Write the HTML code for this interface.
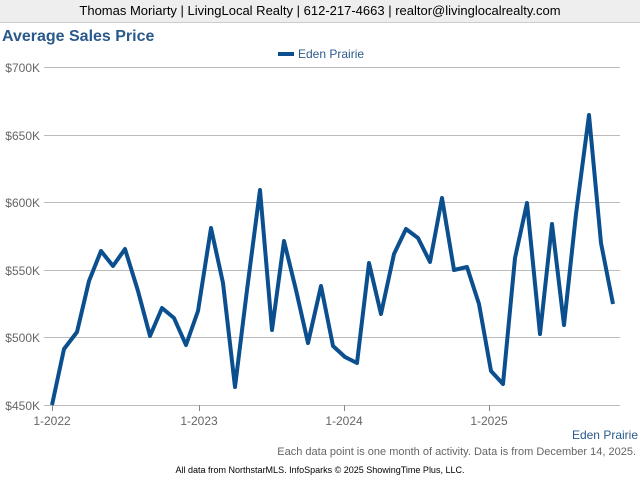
<!DOCTYPE html>
<html><head><meta charset="utf-8"><style>
body{margin:0;width:640px;height:480px;background:#fff;font-family:"Liberation Sans",sans-serif;overflow:hidden;position:relative}
.hdr{position:absolute;left:0;top:0;width:640px;height:22px;background:#eee;border-bottom:1px solid #ccc;font-size:13px;text-align:center;line-height:22px;color:#000}
</style></head><body>
<div class="hdr">Thomas Moriarty | LivingLocal Realty | 612-217-4663 | realtor@livinglocalrealty.com</div>
<svg width="640" height="480" style="position:absolute;left:0;top:0" font-family="Liberation Sans, sans-serif">
<text x="2" y="41" font-size="16" font-weight="bold" fill="#2a5a8c">Average Sales Price</text>
<line x1="278" y1="54" x2="294" y2="54" stroke="#0b4f8f" stroke-width="4"/>
<text x="298" y="58" font-size="12" fill="#2a5a8c">Eden Prairie</text>
<g stroke="#bbb" stroke-width="1">
<line x1="44" y1="67.5" x2="620" y2="67.5"/><line x1="44" y1="135.5" x2="620" y2="135.5"/>
<line x1="44" y1="202.5" x2="620" y2="202.5"/><line x1="44" y1="270.5" x2="620" y2="270.5"/>
<line x1="44" y1="337.5" x2="620" y2="337.5"/><line x1="44" y1="405.5" x2="620" y2="405.5"/>
</g>
<g stroke="#888" stroke-width="1"><line x1="52.5" y1="405" x2="52.5" y2="411"/><line x1="199.5" y1="405" x2="199.5" y2="411"/><line x1="344.5" y1="405" x2="344.5" y2="411"/><line x1="489.5" y1="405" x2="489.5" y2="411"/></g>
<g font-size="12" fill="#666" text-anchor="end">
<text x="40" y="72">$700K</text><text x="40" y="140">$650K</text><text x="40" y="207">$600K</text>
<text x="40" y="275">$550K</text><text x="40" y="342">$500K</text><text x="40" y="410">$450K</text>
</g>
<g font-size="12" fill="#666" text-anchor="middle">
<text x="52" y="425">1-2022</text><text x="199" y="425">1-2023</text><text x="344" y="425">1-2024</text><text x="489" y="425">1-2025</text>
</g>
<polyline fill="none" stroke="#0b4f8f" stroke-width="4" stroke-linejoin="round" points="52,405 64,349 77,332 89,281 101,251 113,266 125,249 138,291 150,336 162,308 174,318 186,345 198,311 211,228 223,283 235,387 247,290 260,190 272,330 284,241 296,290 308,343 321,286 333,346 345,357 357,363 369,263 381,314 394,254 406,229 418,238 430,262 442,198 454,270 467,267 479,304 491,371 503,384 515,258 527,203 540,334 552,224 564,325 576,214 589,115 601,243 613,304"/>
<text x="638" y="439" font-size="12" fill="#2a5a8c" text-anchor="end">Eden Prairie</text>
<text x="636" y="455" font-size="11" fill="#666" text-anchor="end">Each data point is one month of activity. Data is from December 14, 2025.</text>
<text x="320" y="473" font-size="9" fill="#000" text-anchor="middle">All data from NorthstarMLS. InfoSparks © 2025 ShowingTime Plus, LLC.</text>
</svg>
</body></html>
